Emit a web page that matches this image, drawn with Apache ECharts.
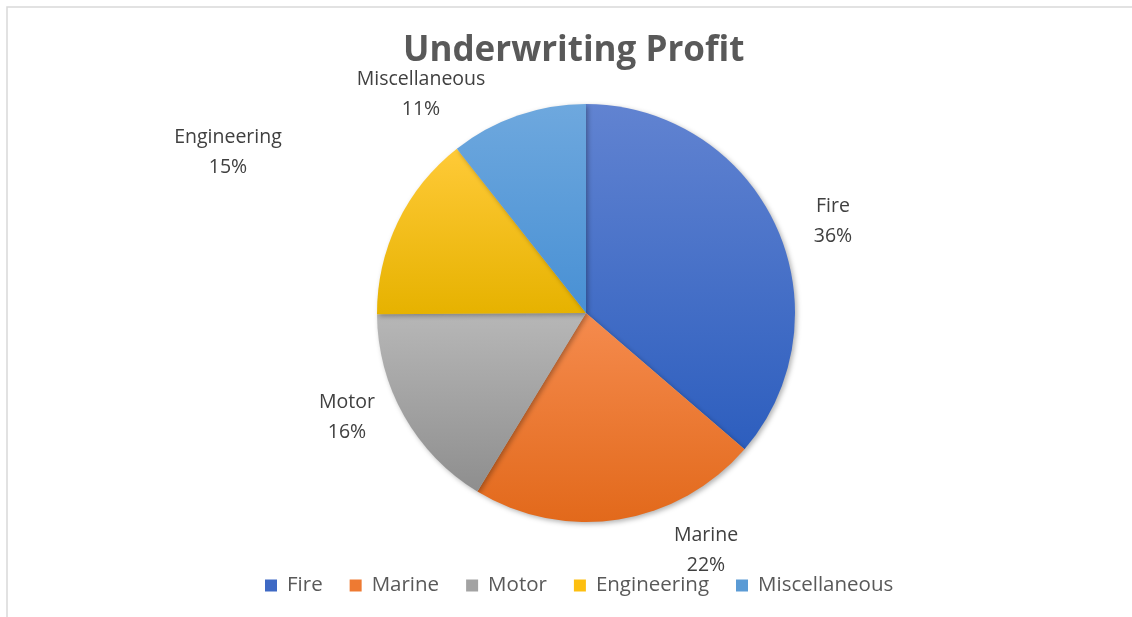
<!DOCTYPE html>
<html>
<head>
<meta charset="utf-8">
<script src="https://cdn.jsdelivr.net/npm/echarts@6/dist/echarts.min.js"></script>
<style>html,body{margin:0;padding:0;background:#fff;}#c{width:1132px;height:617px;}</style>
</head>
<body>
<div id="c"></div>
<script>
var categories = ['Fire', 'Marine', 'Motor', 'Engineering', 'Miscellaneous'];
var values = [36.3, 22.4, 16.2, 14.5, 10.6];
var titleText = 'Underwriting Profit';

var gradTop = ['#6183D1', '#F58B4E', '#B7B7B7', '#FFCA38', '#6EA8DE'];
var gradBottom = ['#2D5EBE', '#E2691B', '#8E8E8E', '#E6B200', '#4890D4'];
var legendColors = ['#3E69C4', '#EE7A32', '#A3A3A3', '#FDBF10', '#5B9BD5'];
// label centre offsets from the pie centre (layout only)
var labelOffsets = [[247, -92], [120, 237], [-239, 104], [-358, -161], [-165, -219]];

var CX = 586, CY = 313, R = 209;
var FONT = '"Open Sans", "Liberation Sans", sans-serif';

var chart = echarts.init(document.getElementById('c'), null, {renderer: 'canvas'});
var data = categories.map(function (n, i) {
  return {
    name: n,
    value: values[i],
    itemStyle: {
      color: new echarts.graphic.LinearGradient(0, 0, 0, 1, [
        {offset: 0, color: gradTop[i]},
        {offset: 1, color: gradBottom[i]}
      ])
    }
  };
});

chart.setOption({
  animation: false,
  backgroundColor: '#ffffff',
  color: legendColors,
  graphic: [{
    type: 'rect',
    shape: {x: 7, y: 7, width: 1200, height: 700},
    style: {fill: 'none', stroke: '#d9d9d9', lineWidth: 1.5},
    silent: true, z: -1
  }],
  title: {
    text: titleText,
    left: 398,
    top: 29,
    textStyle: {fontFamily: FONT, fontWeight: 'bold', fontSize: 35, color: '#595959'}
  },
  legend: {
    data: categories.map(function (n, i) {
      return {name: n, itemStyle: {color: legendColors[i]}};
    }),
    bottom: 16,
    left: 260,
    itemWidth: 12,
    itemHeight: 12,
    itemGap: 27,
    icon: 'rect',
    textStyle: {fontFamily: FONT, fontSize: 20.5, color: '#595959', padding: [0, 0, 0, 5]}
  },
  series: [{
    type: 'pie',
    center: [CX, CY],
    radius: R,
    startAngle: 90,
    clockwise: true,
    silent: true,
    percentPrecision: 0,
    data: data,
    itemStyle: {
      shadowBlur: 5,
      shadowOffsetX: 2,
      shadowOffsetY: 2,
      shadowColor: 'rgba(0,0,0,0.3)'
    },
    label: {
      show: true,
      position: 'outside',
      formatter: '{b}\n{d}%',
      fontFamily: FONT,
      fontSize: 19.5,
      lineHeight: 30,
      color: '#404040',
      align: 'center'
    },
    labelLine: {show: false},
    labelLayout: function (p) {
      var o = labelOffsets[p.dataIndex];
      return {
        x: CX + o[0],
        y: CY + o[1],
        align: 'center',
        verticalAlign: 'middle'
      };
    }
  }]
});
</script>
</body>
</html>
